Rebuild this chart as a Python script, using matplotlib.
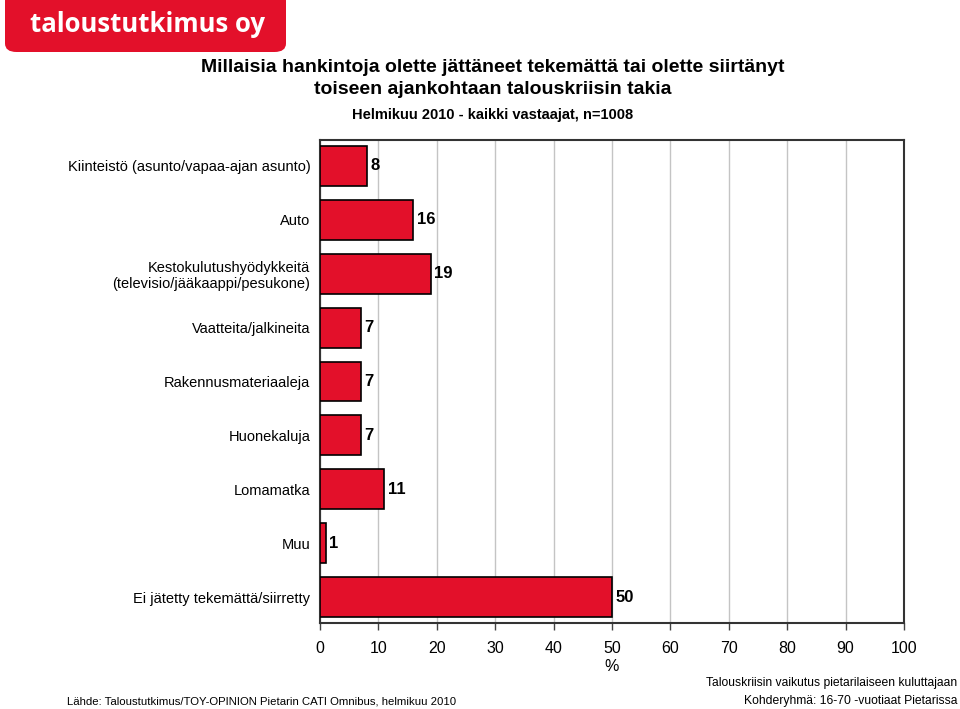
import matplotlib
matplotlib.use('Agg')
import matplotlib.pyplot as plt
from matplotlib.patches import FancyBboxPatch

plt.rcParams['font.family'] = ['Liberation Sans', 'DejaVu Sans']

# data
categories = ['Kiinteistö (asunto/vapaa-ajan asunto)', 'Auto',
              'Kestokulutushyödykkeitä\n(televisio/jääkaappi/pesukone)',
              'Vaatteita/jalkineita', 'Rakennusmateriaaleja', 'Huonekaluja',
              'Lomamatka', 'Muu', 'Ei jätetty tekemättä/siirretty']
values = [8, 16, 19, 7, 7, 7, 11, 1, 50]
xticks = [0, 10, 20, 30, 40, 50, 60, 70, 80, 90, 100]

red = '#E3102A'

fig = plt.figure(figsize=(9.6, 7.09), dpi=100)
ax = fig.add_axes([320 / 960, 1 - 623 / 709, 584 / 960, 483 / 709])

y = range(len(categories))
ax.barh(y, values, height=0.74, color=red, edgecolor='black', linewidth=1.2, zorder=3)
for i, v in enumerate(values):
    ax.text(v + 0.6, i, str(v), va='center', ha='left', fontsize=12, fontweight='bold')

ax.set_xlim(0, 100)
ax.set_ylim(8.48, -0.48)
ax.set_yticks(list(y))
ax.set_yticklabels(categories, fontsize=10.5)
ax.tick_params(axis='y', length=0, pad=7)
ax.set_xticks(xticks)
ax.tick_params(axis='x', labelsize=11.5, length=5, width=1, pad=8, color='#444444')
ax.set_xlabel('%', fontsize=11.5, labelpad=2)
ax.grid(axis='x', color='#c4c4c4', linewidth=1, zorder=0)
for s in ax.spines.values():
    s.set_color('#333333')
    s.set_linewidth(1.5)

# logo
logo = FancyBboxPatch((5 / 960, 1 - 52 / 709), 281 / 960, 60 / 709,
                      boxstyle='round,pad=0,rounding_size=0.012',
                      transform=fig.transFigure, facecolor=red, edgecolor='none')
fig.patches.append(logo)
fig.text(147 / 960, 1 - 24 / 709, 'taloustutkimus oy', color='white', fontsize=18.5,
         fontweight='bold', family=['Open Sans', 'DejaVu Sans'], ha='center', va='center')

# titles
fig.text(493 / 960, 1 - 67 / 709, 'Millaisia hankintoja olette jättäneet tekemättä tai olette siirtänyt',
         ha='center', va='center', fontsize=14, fontweight='bold')
fig.text(493 / 960, 1 - 89 / 709, 'toiseen ajankohtaan talouskriisin takia',
         ha='center', va='center', fontsize=14, fontweight='bold')
fig.text(493 / 960, 1 - 115 / 709, 'Helmikuu 2010 - kaikki vastaajat, n=1008',
         ha='center', va='center', fontsize=10.5, fontweight='bold')

# footers
fig.text(67 / 960, 1 - 701 / 709, 'Lähde: Taloustutkimus/TOY-OPINION Pietarin CATI Omnibus, helmikuu 2010',
         ha='left', va='center', fontsize=8.2)
fig.text(957 / 960, 1 - 683 / 709, 'Talouskriisin vaikutus pietarilaiseen kuluttajaan',
         ha='right', va='center', fontsize=8.7)
fig.text(957 / 960, 1 - 701 / 709, 'Kohderyhmä: 16-70 -vuotiaat Pietarissa',
         ha='right', va='center', fontsize=8.7)

fig.savefig('out.png', dpi=100)
